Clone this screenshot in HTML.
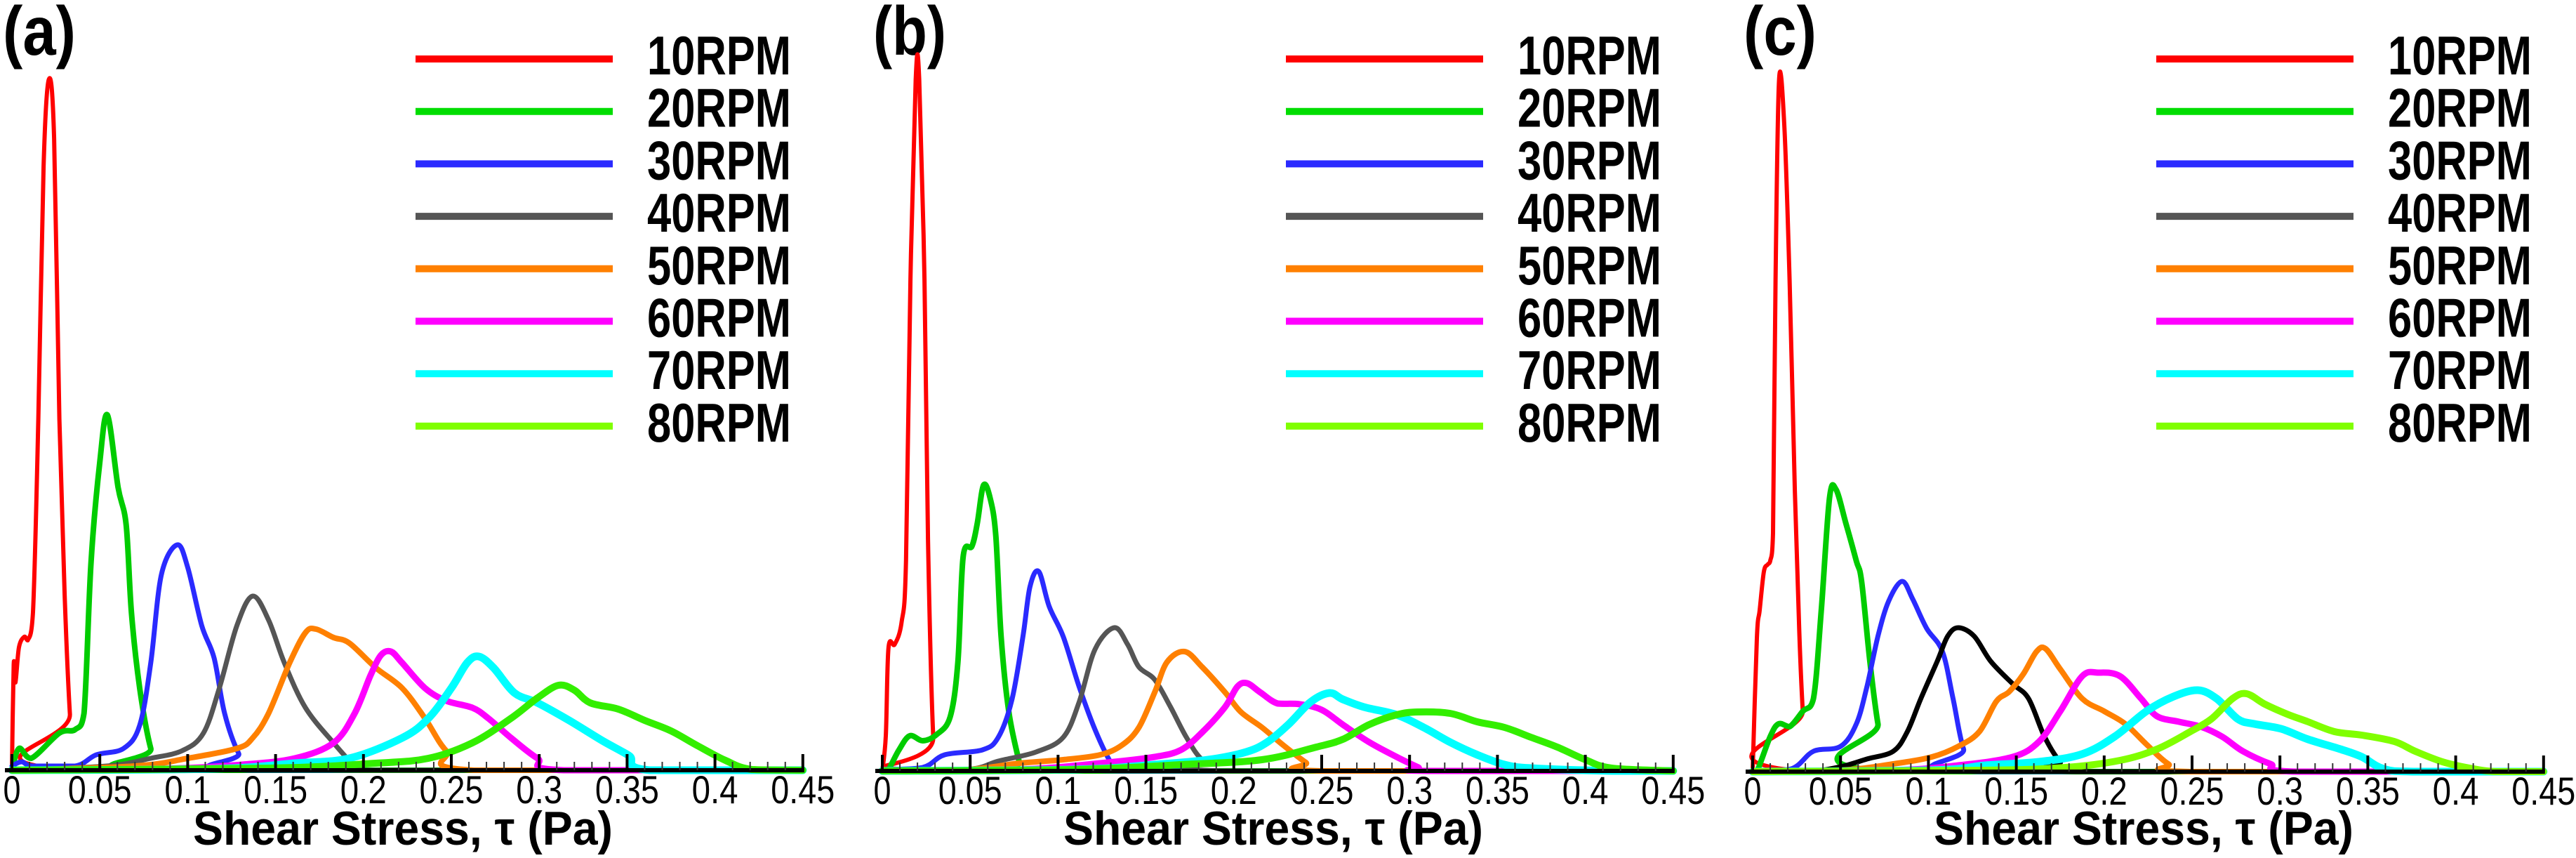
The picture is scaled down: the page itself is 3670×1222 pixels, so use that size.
<!DOCTYPE html>
<html><head><meta charset="utf-8"><style>
html,body{margin:0;padding:0;background:#fff;}
svg{display:block;}
text{font-family:"Liberation Sans",sans-serif;}
</style></head><body>
<svg id="chart" xmlns="http://www.w3.org/2000/svg" width="3670" height="1222" viewBox="0 0 3670 1222"></svg>
<script>
// ---- data: shear stress tau (Pa) vs distribution (arbitrary units) ----
const seriesLabels = ["10RPM","20RPM","30RPM","40RPM","50RPM","60RPM","70RPM","80RPM"];
const panelLabels = ["(a)","(b)","(c)"];
const tickLabels = ["0","0.05","0.1","0.15","0.2","0.25","0.3","0.35","0.4","0.45"];
const tickValues = [0,0.05,0.1,0.15,0.2,0.25,0.3,0.35,0.4,0.45];

// Panel (a)
const a10 = [[0,0],[0.001,150],[0.002,125],[0.004,175],[0.007,190],[0.009,185],[0.012,225],[0.015,500],[0.018,860],[0.021,984],[0.024,900],[0.027,500],[0.030,250],[0.033,80],[0.036,0],[0.45,0]];
const a20 = [[0,0],[0.004,31],[0.011,17],[0.027,53],[0.036,58],[0.041,81],[0.045,296],[0.050,439],[0.0543,506],[0.0604,403],[0.065,349],[0.068,224],[0.0727,117],[0.079,31],[0.085,0],[0.45,0]];
const a30 = [[0,6],[0.0055,12],[0.012,6],[0.036,6],[0.048,22],[0.0635,31],[0.0727,64],[0.079,153],[0.085,278],[0.094,321],[0.100,289],[0.108,206],[0.115,160],[0.121,81],[0.129,24],[0.137,0],[0.45,0]];
const a40 = [[0,0],[0.054,6],[0.079,17],[0.097,28],[0.109,53],[0.118,117],[0.128,206],[0.137,248],[0.146,214],[0.155,153],[0.167,89],[0.183,39],[0.195,6],[0.200,0],[0.45,0]];
const a50 = [[0,0],[0.07,6],[0.100,17],[0.128,31],[0.137,46],[0.146,81],[0.158,153],[0.167,196],[0.173,201],[0.183,189],[0.192,181],[0.207,146],[0.222,117],[0.235,74],[0.247,28],[0.263,0],[0.45,0]];
const a60 = [[0,0],[0.085,2],[0.131,8],[0.161,17],[0.183,39],[0.195,81],[0.204,135],[0.210,164],[0.2157,169],[0.222,153],[0.235,117],[0.247,99],[0.262,89],[0.271,74],[0.284,46],[0.299,17],[0.314,0],[0.45,0]];
const a70 = [[0,0],[0.115,2],[0.161,10],[0.192,17],[0.222,46],[0.237,74],[0.250,117],[0.259,153],[0.2656,162],[0.274,146],[0.286,110],[0.299,96],[0.317,71],[0.336,42],[0.351,21],[0.363,0],[0.45,0]];
const a80 = [[0,0],[0.146,3],[0.207,10],[0.237,17],[0.262,39],[0.284,74],[0.299,103],[0.311,121],[0.320,114],[0.329,96],[0.345,87],[0.360,71],[0.375,56],[0.390,35],[0.406,14],[0.421,1],[0.45,0]];

// Panel (b)
const b10 = [[0,0],[0.002,50],[0.0035,175],[0.007,180],[0.011,212],[0.0135,300],[0.016,700],[0.019,985],[0.021,985],[0.024,700],[0.026,330],[0.029,48],[0.032,0],[0.45,0]];
const b20 = [[0,0],[0.003,0],[0.0095,30],[0.0156,50],[0.023,43],[0.031,52],[0.0386,77],[0.043,155],[0.046,305],[0.051,320],[0.054,352],[0.0576,407],[0.0615,387],[0.0646,334],[0.0676,191],[0.072,84],[0.078,12],[0.080,0],[0.45,0]];
const b30 = [[0,2],[0.023,5],[0.0355,23],[0.057,30],[0.066,48],[0.0738,102],[0.080,191],[0.084,262],[0.089,284],[0.095,234],[0.103,191],[0.112,120],[0.121,59],[0.130,12],[0.135,0],[0.45,0]];
const b40 = [[0,0],[0.048,2],[0.066,14],[0.0875,27],[0.103,48],[0.112,98],[0.121,173],[0.132,204],[0.1396,180],[0.146,148],[0.155,130],[0.164,91],[0.173,48],[0.182,16],[0.195,0],[0.45,0]];
const b50 = [[0,0],[0.048,2],[0.078,11],[0.103,16],[0.124,23],[0.1365,37],[0.146,62],[0.155,112],[0.162,155],[0.172,170],[0.182,148],[0.195,112],[0.204,84],[0.216,62],[0.228,37],[0.241,12],[0.250,0],[0.45,0]];
const b60 = [[0,0],[0.078,2],[0.124,11],[0.155,20],[0.170,30],[0.182,55],[0.195,91],[0.202,120],[0.2075,125],[0.215,112],[0.225,96],[0.2375,95],[0.250,87],[0.262,66],[0.277,41],[0.2926,20],[0.305,5],[0.310,0],[0.45,0]];
const b70 = [[0,0],[0.109,2],[0.155,9],[0.1855,16],[0.207,27],[0.219,41],[0.231,66],[0.2436,98],[0.2544,111],[0.262,102],[0.274,91],[0.2926,80],[0.308,62],[0.323,41],[0.3385,23],[0.354,9],[0.369,4],[0.415,0],[0.45,0]];
const b80 = [[0,0],[0.109,2],[0.170,9],[0.216,16],[0.247,34],[0.262,45],[0.277,66],[0.2926,80],[0.305,84],[0.323,82],[0.3385,70],[0.354,62],[0.369,48],[0.384,34],[0.400,16],[0.415,4],[0.45,0]];

// Panel (c)
const c10 = [[0,0],[0.0024,190],[0.004,230],[0.0064,285],[0.0086,295],[0.010,300],[0.0116,340],[0.013,700],[0.015,985],[0.018,920],[0.021,700],[0.024,400],[0.0265,200],[0.0285,86],[0.031,0],[0.45,0]];
const c20 = [[0,0],[0.0024,0],[0.010,50],[0.0147,68],[0.021,64],[0.0285,86],[0.0346,104],[0.039,229],[0.0437,389],[0.0474,402],[0.053,354],[0.059,300],[0.062,271],[0.0667,157],[0.0713,68],[0.0774,0],[0.45,0]];
const c30 = [[0,0],[0.022,4],[0.0346,29],[0.050,36],[0.059,68],[0.065,121],[0.0713,193],[0.0774,243],[0.085,271],[0.091,246],[0.099,204],[0.108,171],[0.114,104],[0.120,32],[0.128,0],[0.45,0]];
const c40 = [[0,0],[0.031,0],[0.050,7],[0.065,18],[0.080,29],[0.088,57],[0.0957,104],[0.105,157],[0.111,193],[0.117,205],[0.126,193],[0.1355,157],[0.148,125],[0.157,104],[0.166,50],[0.175,14],[0.184,0],[0.45,0]];
const c50 = [[0,0],[0.050,2],[0.080,11],[0.102,21],[0.117,36],[0.129,57],[0.1386,100],[0.146,114],[0.154,139],[0.1615,171],[0.1667,175],[0.175,146],[0.1875,104],[0.200,86],[0.212,68],[0.224,39],[0.2365,11],[0.249,0],[0.45,0]];
const c60 = [[0,0],[0.080,2],[0.117,9],[0.148,21],[0.163,43],[0.175,86],[0.1875,136],[0.1967,141],[0.209,136],[0.221,104],[0.230,79],[0.2426,71],[0.255,64],[0.267,50],[0.279,29],[0.2946,11],[0.310,0],[0.45,0]];
const c70 = [[0,0],[0.102,2],[0.1325,9],[0.163,14],[0.1875,25],[0.206,50],[0.224,86],[0.2395,107],[0.2533,116],[0.264,104],[0.276,75],[0.2854,68],[0.3007,61],[0.316,46],[0.3344,32],[0.3466,21],[0.359,4],[0.377,0],[0.45,0]];
const c80 = [[0,0],[0.132,2],[0.178,6],[0.209,16],[0.230,32],[0.249,57],[0.261,75],[0.273,104],[0.281,111],[0.2915,96],[0.304,82],[0.316,71],[0.331,57],[0.3466,52],[0.365,43],[0.377,29],[0.3925,14],[0.408,5],[0.423,0],[0.45,0]];

const panelData = [[a10,a20,a30,a40,a50,a60,a70,a80],[b10,b20,b30,b40,b50,b60,b70,b80],[c10,c20,c30,c40,c50,c60,c70,c80]];

// ---- styling / layout (not data) ----
const NS = "http://www.w3.org/2000/svg";
const svg = document.getElementById("chart");
const panelX0 = [17, 1257, 2497];
const axisYs = [1097, 1098, 1099];
const pxPerPa = 2504;
const legendColors = ["#ff0000","#00dd00","#2a2aff","#555555","#ff8000","#ff00ff","#00ffff","#80ff00"];
const curveColors = [
  ["#ff0000","#00cc00","#2a2aff","#555555","#ff8000","#ff00ff","#00ffff","#33ee00"],
  ["#ff0000","#00cc00","#2a2aff","#555555","#ff8000","#ff00ff","#00ffff","#33ee00"],
  ["#ff0000","#00cc00","#2a2aff","#000000","#ff8000","#ff00ff","#00ffff","#80ff00"]
];
const curveWidths = [6,8,7,7,8,9,11,10];

function mk(tag, attrs, parent){
  const el = document.createElementNS(NS, tag);
  for (const k in attrs) el.setAttribute(k, attrs[k]);
  parent.appendChild(el);
  return el;
}
function smoothPath(pts){
  let d = "M" + pts[0][0].toFixed(1) + "," + pts[0][1].toFixed(1);
  for (let i=0;i<pts.length-1;i++){
    const p0 = pts[i-1]||pts[i], p1 = pts[i], p2 = pts[i+1], p3 = pts[i+2]||p2;
    const c1x = p1[0]+(p2[0]-p0[0])/6, c1y = p1[1]+(p2[1]-p0[1])/6;
    const c2x = p2[0]-(p3[0]-p1[0])/6, c2y = p2[1]-(p3[1]-p1[1])/6;
    const lim = Math.max(p1[1],p2[1]);
    d += " C"+c1x.toFixed(1)+","+Math.min(c1y, lim).toFixed(1)+" "+c2x.toFixed(1)+","+Math.min(c2y, lim).toFixed(1)+" "+p2[0].toFixed(1)+","+p2[1].toFixed(1);
  }
  return d;
}

panelLabels.forEach(function(lab, p){
  const x0 = panelX0[p], ay = axisYs[p];
  const xScale = function(v){ return x0 + v*pxPerPa; };
  const yScale = function(v){ return ay - v; };
  const g = mk("g", {}, svg);
  
  

  const pl = mk("text", {x: x0-13, y: 78, "font-size": 98, "font-weight": "bold", fill: "#000", textLength: 104, lengthAdjust: "spacingAndGlyphs"}, g);
  pl.textContent = lab;
  
  

  // curves
  const cg = mk("g", {fill:"none","stroke-linejoin":"round","stroke-linecap":"round"}, g);
  
  
  panelData[p].forEach(function(series, s){
    const pts = series.map(function(d){ return [xScale(d[0]), yScale(d[1])]; });
    const path = mk("path", {d: smoothPath(pts), stroke: curveColors[p][s], "stroke-width": curveWidths[s]}, cg);
    
    
  });

  // axis
  const ax = mk("g", {}, g);
  
  
  mk("line", {x1: x0-10, x2: xScale(0.45)+2, y1: ay, y2: ay, stroke: "#000", "stroke-width": 6}, ax);
  for (let i=0;i<=45;i++){
    const major = (i%5===0);
    const tx = xScale(i/100);
    mk("line", {x1: tx, x2: tx, y1: ay, y2: ay-(major?23:12), stroke: major?"#000":"#333", "stroke-width": major?4:2}, ax);
  }
  tickValues.forEach(function(v, i){
    const lbl = tickLabels[i];
    const t = mk("text", {x: xScale(v), y: ay+47, "font-size": 56, "text-anchor": "middle", fill: "#000", textLength: (lbl.length===1?25:(lbl.length*25-9)), lengthAdjust: "spacingAndGlyphs"}, ax);
    t.textContent = lbl;
    
    
  });
  const tt = mk("text", {x: x0+557, y: 1203, "font-size": 68, "font-weight": "bold", "text-anchor": "middle", textLength: 598, lengthAdjust: "spacingAndGlyphs", fill: "#000"}, ax);
  tt.textContent = "Shear Stress, \u03c4 (Pa)";
  
  

  // legend
  const lg = mk("g", {}, g);
  
  
  seriesLabels.forEach(function(name, s){
    const ly = 84 + s*74.7;
    const e = mk("g", {}, lg);
    
    
    mk("line", {x1: x0+575, x2: x0+856, y1: ly, y2: ly, stroke: legendColors[s], "stroke-width": 10}, e);
    const t = mk("text", {x: x0+905, y: ly+22, "font-size": 78, "font-weight": "bold", fill: "#000", textLength: 205, lengthAdjust: "spacingAndGlyphs"}, e);
    t.textContent = name;
  });
});
</script>
</body></html>
